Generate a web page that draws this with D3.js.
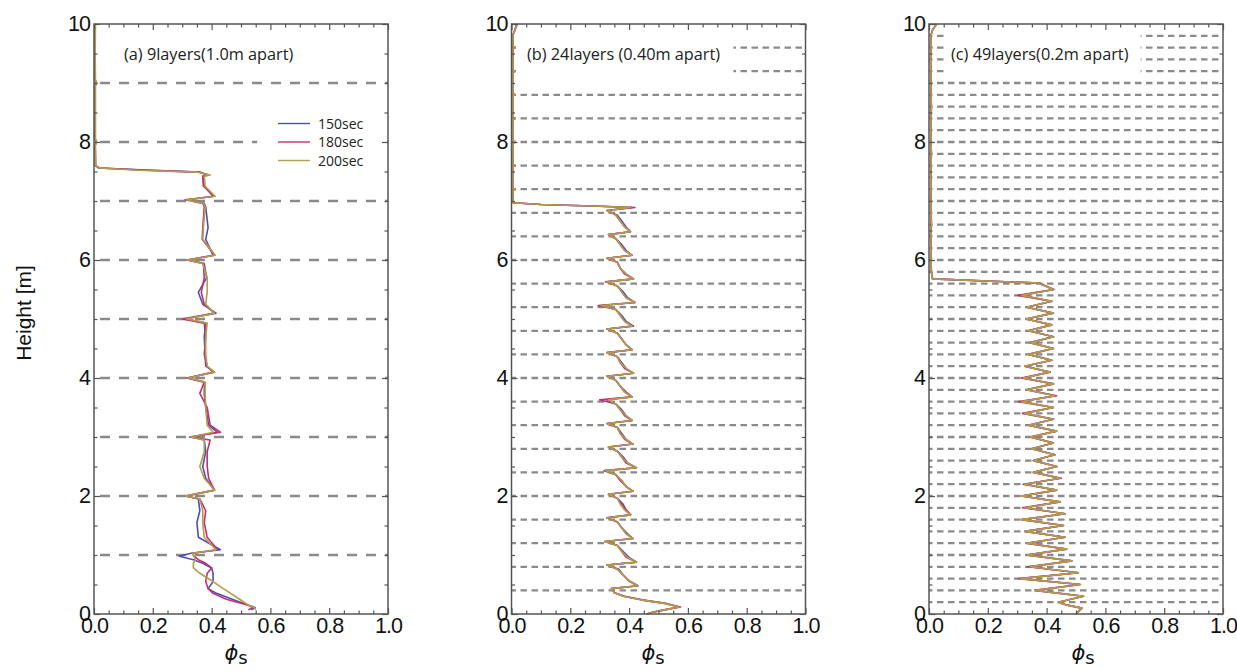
<!DOCTYPE html>
<html><head><meta charset="utf-8">
<script src="https://cdn.jsdelivr.net/npm/d3@7"></script>
<style>body{margin:0;background:#fff} svg{display:block}</style>
</head><body>
<svg id="chart" width="1237" height="671"></svg>
<script>
// ---------------- DATA ----------------
const seriesNames = ["150sec", "180sec", "200sec"];
const seriesColors = ["#4f4fb3", "#c2306f", "#b49c4a"];
const xTickValues = [0, 0.2, 0.4, 0.6, 0.8, 1.0];
const xTickLabels = ["0.0", "0.2", "0.4", "0.6", "0.8", "1.0"];
const yTickValues = [0, 2, 4, 6, 8, 10];
const yTickLabels = ["0", "2", "4", "6", "8", "10"];
const panelLabels = ["(a) 9layers(1.0m apart)", "(b) 24layers (0.40m apart)", "(c) 49layers(0.2m apart)"];

const layersA = [1, 2, 3, 4, 5, 6, 7, 8, 9];
const layersB = [0.4, 0.8, 1.2, 1.6, 2.0, 2.4, 2.8, 3.2, 3.6, 4.0, 4.4, 4.8, 5.2, 5.6, 6.0, 6.4, 6.8, 7.2, 7.6, 8.0, 8.4, 8.8, 9.2, 9.6];
const layersC = [0.2, 0.4, 0.6, 0.8, 1.0, 1.2, 1.4, 1.6, 1.8, 2.0, 2.2, 2.4, 2.6, 2.8, 3.0, 3.2, 3.4, 3.6, 3.8, 4.0, 4.2, 4.4, 4.6, 4.8, 5.0,
  5.2, 5.4, 5.6, 5.8, 6.0, 6.2, 6.4, 6.6, 6.8, 7.0, 7.2, 7.4, 7.6, 7.8, 8.0, 8.2, 8.4, 8.6, 8.8, 9.0, 9.2, 9.4, 9.6, 9.8];

// Panel (a)
const heightsA = [10.0, 9.5, 9.05, 9.0, 8.95, 8.5, 8.05, 8.0, 7.95, 7.6, 7.56, 7.52, 7.49, 7.44, 7.42, 7.25, 7.08, 7.02, 6.96, 6.9,
  6.55, 6.35, 6.08, 6.0, 5.94, 5.7, 5.45, 5.25, 5.1, 5.0, 4.93, 4.7, 4.4, 4.2, 4.1, 4.0, 3.93, 3.74, 3.5, 3.2,
  3.08, 3.0, 2.95, 2.75, 2.5, 2.3, 2.1, 2.0, 1.95, 1.75, 1.55, 1.3, 1.09, 1.03, 0.98, 0.92, 0.86, 0.78, 0.69, 0.55,
  0.43, 0.35, 0.25, 0.15, 0.11, 0.07];
const phiA150 = [0.003,0.003,0.004,0.008,0.004,0.004,0.004,0.008,0.004,0.005,
  0.015,0.20,0.36,0.385,0.37,0.375,0.405,0.32,0.375,0.38,
  0.388,0.38,0.405,0.32,0.375,0.383,0.355,0.37,0.415,0.31,
  0.38,0.375,0.378,0.38,0.41,0.315,0.376,0.375,0.38,0.39,
  0.42,0.33,0.375,0.38,0.37,0.38,0.41,0.31,0.355,0.36,
  0.35,0.355,0.43,0.33,0.29,0.338,0.37,0.40,0.405,0.405,
  0.388,0.417,0.47,0.525,0.548,0.535];
const phiA180 = [0.004,0.003,0.004,0.009,0.004,0.004,0.004,0.009,0.004,0.005,
  0.02,0.18,0.355,0.39,0.37,0.372,0.41,0.31,0.37,0.375,
  0.37,0.368,0.41,0.315,0.372,0.375,0.365,0.375,0.41,0.30,
  0.375,0.38,0.375,0.385,0.405,0.32,0.375,0.36,0.385,0.395,
  0.43,0.325,0.395,0.385,0.385,0.39,0.41,0.315,0.36,0.38,
  0.375,0.385,0.42,0.335,0.34,0.355,0.38,0.40,0.385,0.38,
  0.388,0.405,0.45,0.525,0.54,0.525];
const phiA200 = [0.005,0.004,0.005,0.010,0.005,0.005,0.005,0.010,0.005,0.006,
  0.02,0.15,0.35,0.395,0.375,0.378,0.412,0.315,0.372,0.378,
  0.372,0.37,0.412,0.318,0.37,0.385,0.385,0.38,0.41,0.315,
  0.385,0.38,0.38,0.385,0.41,0.32,0.378,0.378,0.38,0.385,
  0.405,0.33,0.375,0.375,0.36,0.375,0.41,0.31,0.36,0.37,
  0.37,0.375,0.415,0.335,0.34,0.345,0.338,0.338,0.36,0.405,
  0.44,0.465,0.495,0.525,0.545,0.55];

// Panel (b)
const heightsB = [10.0, 9.8, 9.62, 9.6, 9.58, 9.22, 9.2, 9.18, 8.82, 8.8, 8.78, 8.42, 8.4, 8.38, 8.02, 8.0, 7.98, 7.62, 7.6, 7.58, 7.22, 7.2, 7.18, 7.0,
  6.97, 6.94, 6.91, 6.89, 6.84,
  6.76, 6.66, 6.56, 6.48, 6.43,
  6.36, 6.26, 6.16, 6.08, 6.03,
  5.96, 5.86, 5.76, 5.68, 5.63,
  5.56, 5.46, 5.36, 5.28, 5.23,
  5.16, 5.06, 4.96, 4.88, 4.83,
  4.76, 4.66, 4.56, 4.48, 4.43,
  4.36, 4.26, 4.16, 4.08, 4.03,
  3.96, 3.86, 3.76, 3.68, 3.63,
  3.56, 3.46, 3.36, 3.28, 3.23,
  3.16, 3.06, 2.96, 2.88, 2.83,
  2.76, 2.66, 2.56, 2.48, 2.43,
  2.36, 2.26, 2.16, 2.08, 2.03,
  1.96, 1.86, 1.76, 1.68, 1.63,
  1.56, 1.46, 1.36, 1.28, 1.23,
  1.16, 1.06, 0.96, 0.88, 0.83,
  0.76, 0.66, 0.56, 0.48, 0.43,
  0.36, 0.3, 0.24, 0.18, 0.12, 0.07, 0.03, 0.0];
const phiB150 = [0.018, 0.004, 0.005, 0.011, 0.005, 0.004, 0.011, 0.004, 0.004, 0.011, 0.004, 0.004, 0.011, 0.004, 0.004, 0.011, 0.004, 0.004, 0.011, 0.004, 0.004, 0.011, 0.004, 0.005,
  0.006, 0.1, 0.3, 0.41, 0.325,
  0.36, 0.375, 0.39, 0.405, 0.33,
  0.355, 0.375, 0.39, 0.41, 0.325,
  0.36, 0.37, 0.39, 0.415, 0.325,
  0.36, 0.38, 0.395, 0.42, 0.305,
  0.355, 0.375, 0.39, 0.415, 0.325,
  0.36, 0.375, 0.39, 0.41, 0.325,
  0.36, 0.375, 0.39, 0.415, 0.325,
  0.355, 0.37, 0.39, 0.41, 0.325,
  0.355, 0.375, 0.39, 0.41, 0.325,
  0.36, 0.375, 0.39, 0.413, 0.33,
  0.36, 0.38, 0.395, 0.425, 0.315,
  0.355, 0.375, 0.39, 0.413, 0.33,
  0.36, 0.38, 0.39, 0.405, 0.325,
  0.36, 0.375, 0.395, 0.413, 0.318,
  0.36, 0.38, 0.40, 0.425, 0.325,
  0.365, 0.38, 0.40, 0.43, 0.34,
  0.35, 0.385, 0.445, 0.525, 0.57, 0.52, 0.48, 0.46];
const phiB180 = [0.02, 0.004, 0.005, 0.012, 0.005, 0.004, 0.012, 0.004, 0.004, 0.012, 0.004, 0.004, 0.012, 0.004, 0.004, 0.012, 0.004, 0.004, 0.012, 0.004, 0.004, 0.011, 0.004, 0.005,
  0.006, 0.1, 0.3, 0.42, 0.325,
  0.355, 0.37, 0.385, 0.403, 0.33,
  0.355, 0.37, 0.385, 0.41, 0.325,
  0.36, 0.37, 0.385, 0.415, 0.32,
  0.36, 0.375, 0.39, 0.42, 0.295,
  0.355, 0.37, 0.385, 0.41, 0.325,
  0.36, 0.375, 0.39, 0.41, 0.325,
  0.36, 0.37, 0.385, 0.415, 0.325,
  0.355, 0.37, 0.385, 0.41, 0.30,
  0.355, 0.37, 0.385, 0.41, 0.325,
  0.36, 0.37, 0.385, 0.413, 0.33,
  0.36, 0.375, 0.39, 0.425, 0.32,
  0.355, 0.37, 0.39, 0.413, 0.33,
  0.36, 0.375, 0.39, 0.405, 0.325,
  0.36, 0.375, 0.39, 0.413, 0.318,
  0.36, 0.375, 0.39, 0.425, 0.325,
  0.36, 0.38, 0.40, 0.43, 0.34,
  0.35, 0.38, 0.44, 0.52, 0.575, 0.52, 0.48, 0.46];
const phiB200 = [0.02, 0.004, 0.005, 0.012, 0.005, 0.004, 0.012, 0.004, 0.004, 0.012, 0.004, 0.004, 0.012, 0.004, 0.004, 0.012, 0.004, 0.004, 0.012, 0.004, 0.004, 0.011, 0.004, 0.005,
  0.006, 0.1, 0.3, 0.405, 0.325,
  0.355, 0.37, 0.385, 0.403, 0.33,
  0.355, 0.37, 0.385, 0.41, 0.325,
  0.36, 0.37, 0.39, 0.415, 0.325,
  0.36, 0.375, 0.39, 0.42, 0.305,
  0.355, 0.37, 0.385, 0.41, 0.325,
  0.36, 0.375, 0.39, 0.41, 0.325,
  0.36, 0.37, 0.39, 0.415, 0.325,
  0.355, 0.37, 0.385, 0.41, 0.33,
  0.355, 0.37, 0.39, 0.41, 0.325,
  0.36, 0.37, 0.39, 0.413, 0.33,
  0.36, 0.375, 0.395, 0.425, 0.32,
  0.355, 0.375, 0.39, 0.413, 0.33,
  0.36, 0.37, 0.385, 0.405, 0.325,
  0.36, 0.375, 0.39, 0.413, 0.318,
  0.36, 0.375, 0.395, 0.425, 0.325,
  0.36, 0.38, 0.40, 0.43, 0.34,
  0.35, 0.38, 0.44, 0.52, 0.57, 0.52, 0.48, 0.46];

// Panel (c)
const heightsC = [10.0, 9.9, 9.8, 9.6, 9.4, 9.2, 9.0, 8.6, 8.2, 7.8, 7.4, 7.0, 6.6, 6.2, 5.8, 5.68, 5.61,
  5.5, 5.4, 5.3, 5.2, 5.1, 5.0, 4.9, 4.8, 4.7, 4.6,
  4.5, 4.4, 4.3, 4.2, 4.1, 4.0, 3.9, 3.8, 3.7, 3.6,
  3.5, 3.4, 3.3, 3.2, 3.1, 3.0, 2.9, 2.8, 2.7, 2.6,
  2.5, 2.4, 2.3, 2.2, 2.1, 2.0, 1.9, 1.8, 1.7, 1.6,
  1.5, 1.4, 1.3, 1.2, 1.1, 1.0, 0.9, 0.8, 0.7, 0.6,
  0.5, 0.4, 0.3, 0.2, 0.15, 0.1, 0.0];
const phiC150 = [0.026, 0.012, 0.006, 0.008, 0.005, 0.007, 0.006, 0.008, 0.006, 0.008, 0.006, 0.007, 0.008, 0.006, 0.008, 0.012, 0.372,
  0.425, 0.315, 0.418, 0.333, 0.423, 0.331, 0.418, 0.338, 0.424, 0.344,
  0.423, 0.339, 0.418, 0.326, 0.412, 0.321, 0.424, 0.332, 0.429, 0.316,
  0.423, 0.326, 0.424, 0.338, 0.434, 0.345, 0.423, 0.349, 0.429, 0.355,
  0.435, 0.355, 0.445, 0.327, 0.434, 0.315, 0.446, 0.326, 0.463, 0.316,
  0.458, 0.326, 0.463, 0.333, 0.468, 0.332, 0.486, 0.344, 0.508, 0.311,
  0.515, 0.36, 0.526, 0.44, 0.47, 0.52, 0.50];
const phiC180 = [0.026, 0.012, 0.006, 0.008, 0.005, 0.007, 0.006, 0.008, 0.006, 0.008, 0.006, 0.007, 0.008, 0.006, 0.008, 0.012, 0.375,
  0.423, 0.302, 0.417, 0.332, 0.423, 0.33, 0.417, 0.338, 0.423, 0.344,
  0.423, 0.338, 0.417, 0.326, 0.411, 0.314, 0.423, 0.332, 0.434, 0.305,
  0.423, 0.318, 0.423, 0.338, 0.434, 0.344, 0.423, 0.349, 0.428, 0.355,
  0.434, 0.355, 0.45, 0.32, 0.434, 0.315, 0.445, 0.318, 0.463, 0.315,
  0.457, 0.326, 0.463, 0.332, 0.468, 0.332, 0.485, 0.336, 0.508, 0.304,
  0.514, 0.36, 0.525, 0.44, 0.47, 0.52, 0.50];
const phiC200 = [0.026, 0.012, 0.006, 0.008, 0.005, 0.007, 0.006, 0.008, 0.006, 0.008, 0.006, 0.007, 0.008, 0.006, 0.008, 0.012, 0.37,
  0.423, 0.315, 0.417, 0.332, 0.423, 0.33, 0.417, 0.338, 0.423, 0.344,
  0.423, 0.338, 0.417, 0.326, 0.411, 0.321, 0.423, 0.332, 0.428, 0.315,
  0.423, 0.326, 0.423, 0.338, 0.434, 0.344, 0.423, 0.349, 0.428, 0.355,
  0.434, 0.355, 0.445, 0.326, 0.434, 0.315, 0.445, 0.326, 0.463, 0.315,
  0.457, 0.326, 0.463, 0.332, 0.468, 0.332, 0.485, 0.344, 0.508, 0.31,
  0.514, 0.36, 0.525, 0.44, 0.47, 0.52, 0.50];

// ---------------- LAYOUT ----------------
const Y0 = 24, Y1 = 614, PW = 294;
const numFont = "'Liberation Sans', Arial, sans-serif";
const txtFont = "'Open Sans', 'Noto Sans', sans-serif";
const axisColor = "#555";

const panels = [
  {x0: 94, label: panelLabels[0], labelX: 124, heights: heightsA, series: [phiA150, phiA180, phiA200], layers: layersA,
   dash: "10,9", dashOff: 13, dashW: 2.6, box: null, legend: true, titleX: 236},
  {x0: 511.5, label: panelLabels[1], labelX: 527, heights: heightsB, series: [phiB150, phiB180, phiB200], layers: layersB,
   dash: "6.5,4.5", dashOff: 2, dashW: 2.3, box: [0.018, 0.755], legend: false, titleX: 653},
  {x0: 929, label: panelLabels[2], labelX: 951, heights: heightsC, series: [phiC150, phiC180, phiC200], layers: layersC,
   dash: "6.5,4.5", dashOff: 3, dashW: 2.3, box: [0.055, 0.72], legend: false, titleX: 1083}
];

const svg = d3.select("#chart");
const xMinor = d3.range(0, 1.0001, 0.05).filter(v => !xTickValues.some(m => Math.abs(m - v) < 1e-6));
const yMinor = d3.range(0, 10.0001, 0.5).filter(v => !yTickValues.some(m => Math.abs(m - v) < 1e-6));

function styleAxis(g) {
  g.select(".domain").remove();
  g.selectAll(".tick line").attr("stroke", axisColor).attr("stroke-width", 1.2);
  g.selectAll(".tick text").attr("font-family", numFont).attr("font-size", 21.5)
    .attr("letter-spacing", -1).attr("fill", "#111");
}

panels.forEach((p, pi) => {
  const x = d3.scaleLinear().domain([0, 1]).range([p.x0, p.x0 + PW]);
  const y = d3.scaleLinear().domain([0, 10]).range([Y1, Y0]);
  const g = svg.append("g");

  // layer dashed lines
  g.selectAll("line.layer").data(p.layers).join("line")
    .attr("class", "layer")
    .attr("x1", x(0)).attr("x2", x(1))
    .attr("y1", d => y(d)).attr("y2", d => y(d))
    .attr("stroke", "#8a8a8a").attr("stroke-width", p.dashW)
    .attr("stroke-dasharray", p.dash).attr("stroke-dashoffset", p.dashOff);

  // white boxes behind label / legend
  if (p.box) {
    g.append("rect").attr("x", x(p.box[0])).attr("width", x(p.box[1]) - x(p.box[0]))
      .attr("y", 31).attr("height", 47).attr("fill", "#fff");
  }
  if (p.legend) {
    g.append("rect").attr("x", x(0.555)).attr("width", x(1) - x(0.555) - 1)
      .attr("y", 112).attr("height", 60).attr("fill", "#fff");
  }

  // curves
  const line = d3.line().x(d => x(d[0])).y(d => y(d[1]));
  p.series.forEach((vals, si) => {
    const pts = vals.map((v, i) => [v, p.heights[i]]).filter(d => d[1] !== undefined);
    g.append("path").datum(pts).attr("d", line)
      .attr("fill", "none").attr("stroke", seriesColors[si]).attr("stroke-width", 1.6)
      .attr("stroke-linejoin", "round");
  });

  // panel label
  g.append("text").attr("x", p.labelX).attr("y", 60).text(p.label)
    .attr("font-family", txtFont).attr("font-size", 16.3).attr("fill", "#222");

  // legend
  if (p.legend) {
    const ly = [123.5, 142, 160.5];
    seriesNames.forEach((n, i) => {
      g.append("line").attr("x1", 278).attr("x2", 310).attr("y1", ly[i]).attr("y2", ly[i])
        .attr("stroke", seriesColors[i]).attr("stroke-width", 1.4);
      g.append("text").attr("x", 318).attr("y", ly[i] + 5).text(n)
        .attr("font-family", txtFont).attr("font-size", 14).attr("fill", "#222");
    });
  }

  // axes
  g.append("g").attr("transform", `translate(0,${Y1})`)
    .call(d3.axisBottom(x).tickValues(xTickValues).tickSize(-6).tickPadding(4).tickFormat((d, i) => xTickLabels[i]))
    .call(styleAxis);
  g.append("g").attr("transform", `translate(0,${Y1})`)
    .call(d3.axisBottom(x).tickValues(xMinor).tickSize(-3.5).tickFormat(""))
    .call(styleAxis);
  g.append("g").attr("transform", `translate(0,${Y0})`)
    .call(d3.axisTop(x).tickValues(xTickValues).tickSize(-6).tickFormat(""))
    .call(styleAxis);
  g.append("g").attr("transform", `translate(0,${Y0})`)
    .call(d3.axisTop(x).tickValues(xMinor).tickSize(-3.5).tickFormat(""))
    .call(styleAxis);
  g.append("g").attr("transform", `translate(${x(0)},0)`)
    .call(d3.axisLeft(y).tickValues(yTickValues).tickSize(-6).tickPadding(4).tickFormat((d, i) => yTickLabels[i]))
    .call(styleAxis);
  g.append("g").attr("transform", `translate(${x(0)},0)`)
    .call(d3.axisLeft(y).tickValues(yMinor).tickSize(-3.5).tickFormat(""))
    .call(styleAxis);
  g.append("g").attr("transform", `translate(${x(1)},0)`)
    .call(d3.axisRight(y).tickValues(yTickValues).tickSize(-6).tickFormat(""))
    .call(styleAxis);
  g.append("g").attr("transform", `translate(${x(1)},0)`)
    .call(d3.axisRight(y).tickValues(yMinor).tickSize(-3.5).tickFormat(""))
    .call(styleAxis);

  // frame
  g.append("rect").attr("x", x(0)).attr("y", Y0).attr("width", PW).attr("height", Y1 - Y0)
    .attr("fill", "none").attr("stroke", axisColor).attr("stroke-width", 1.5);

  // x title
  const t = g.append("text").attr("x", p.titleX).attr("y", 660).attr("text-anchor", "middle")
    .attr("font-family", "'DejaVu Sans', sans-serif").attr("fill", "#111");
  t.append("tspan").attr("font-size", 21).attr("font-style", "italic").text("\u03D5");
  t.append("tspan").attr("font-size", 18).attr("dy", 4).text("s");
});

// y title
svg.append("text").attr("transform", "translate(31,313) rotate(-90)")
  .attr("text-anchor", "middle").attr("font-family", numFont).attr("font-size", 21)
  .attr("fill", "#111").text("Height [m]");
</script>
</body></html>
